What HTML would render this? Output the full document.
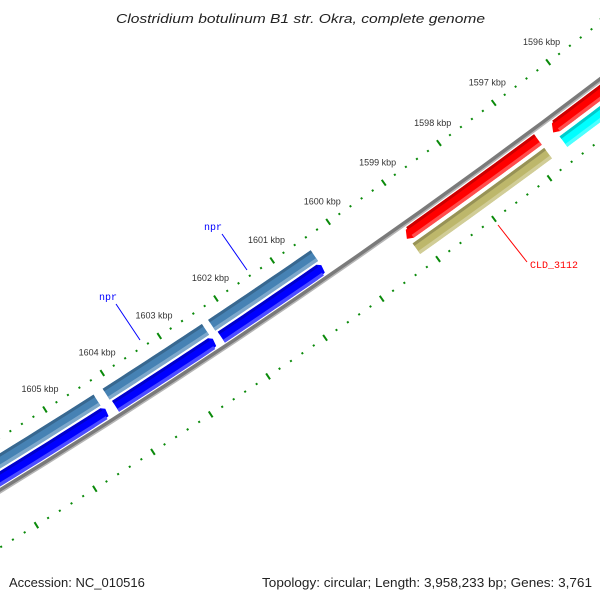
<!DOCTYPE html>
<html><head><meta charset="utf-8"><style>
html,body{margin:0;padding:0;background:#fff;width:600px;height:600px;overflow:hidden;}
svg{display:block;font-family:"Liberation Sans",sans-serif;overflow:hidden;}
</style></head><body>
<svg id="map" width="600" height="600" viewBox="0 0 600 600">
<rect width="600" height="600" fill="#fff"/>
<g id="layer"></g>
<text x="116" y="23" textLength="369" lengthAdjust="spacingAndGlyphs" font-size="13" font-style="italic" fill="#222">Clostridium botulinum B1 str. Okra, complete genome</text>
<text x="9" y="587" font-size="13" fill="#222">Accession: NC_010516</text>
<text x="262" y="587" textLength="330" lengthAdjust="spacingAndGlyphs" font-size="13" fill="#222">Topology: circular; Length: 3,958,233 bp; Genes: 3,761</text>
</svg>
<script>
// data (kbp)
const tickStart = 1590;
const tickEnd = 1612;
const tickStep = 0.2;
const majorLabels = [1596,1597,1598,1599,1600,1601,1602,1603,1604,1605];
const featStart = [1600.5, 1602.42, 1604.3, 1600.45, 1602.38, 1604.28, 1596.8, 1595.0, 1596.8, 1595.0];
const featEnd   = [1602.25, 1604.1, 1608.0, 1602.27, 1604.12, 1608.0, 1599.11, 1596.47, 1599.17, 1596.52];
const featTrack = [1, 1, 1, 0, 0, 0, 2, 2, 3, 3];
const featStrand= [1, 1, 1, 0, 0, 0, -1, -1, 0, 0];
const featColor = ["#0000ff","#0000ff","#0000ff","#4682b4","#4682b4","#4682b4","#ff0000","#ff0000","#bdb76b","#00ffff"];
const labelText = ["npr","npr","CLD_3112"];
const labelFeat = [3, 4, 8];

const CX=-3788, CY=-5683, RB=7242.6;
const trackR=[-24.8,-9.5,11,28];
const TH=13;
function ang(k){return (55.12+(k-1600)*0.541)*Math.PI/180;}
function pt(k,r){const a=ang(k);return [CX+r*Math.cos(a), CY+r*Math.sin(a)];}
const NS="http://www.w3.org/2000/svg";
const layer=document.getElementById('layer');
function mk(tag,attrs){const e=document.createElementNS(NS,tag);for(const k in attrs)e.setAttribute(k,attrs[k]);layer.appendChild(e);return e;}
function arcPath(a,b,r){let s=[];for(let i=0;i<=20;i++){const k=a+(b-a)*i/20;s.push(pt(k,r).map(v=>v.toFixed(2)).join(','));}return s;}

// backbone
let bb=arcPath(1590,1612,RB+1.8);
let e=mk('polyline',{points:bb.join(' '),fill:'none',stroke:'#b5b5b5','stroke-width':3});


bb=arcPath(1590,1612,RB);
e=mk('polyline',{points:bb.join(' '),fill:'none',stroke:'#7a7a7a','stroke-width':3.5});



// ticks
const rows=[RB-44.7, RB+49];
for(let ri=0;ri<2;ri++){
  const n=Math.round((tickEnd-tickStart)/tickStep);
  for(let i=0;i<=n;i++){
    const k=tickStart+i*tickStep;
    const major=Math.abs(k-Math.round(k))<1e-6;
    const len=major?3.5:1;
    const p1=pt(k,rows[ri]-len), p2=pt(k,rows[ri]+len);
    const t=mk('line',{x1:p1[0],y1:p1[1],x2:p2[0],y2:p2[1],stroke:'#0a8a0a','stroke-width':2});
    
    
  }
}
for(const k of majorLabels){
  const p=pt(k-0.1,RB-44.7-20);
  const t=mk('text',{x:p[0],y:p[1]+3,'text-anchor':'middle','font-size':'9',fill:'#333'});
  t.textContent=k+' kbp';
  
  
}

// features
function shade(c,f){const n=parseInt(c.slice(1),16);let r=n>>16,g=(n>>8)&255,b=n&255;
  if(f<0){r*=1+f;g*=1+f;b*=1+f;}else{r+= (255-r)*f;g+=(255-g)*f;b+=(255-b)*f;}
  return 'rgb('+[r,g,b].map(v=>Math.round(v)).join(',')+')';}
function band(a,b,r1,r2){
  let pts=[];const N=16;
  for(let i=0;i<=N;i++){const k=a+(b-a)*i/N;pts.push(pt(k,r1));}
  for(let i=N;i>=0;i--){const k=a+(b-a)*i/N;pts.push(pt(k,r2));}
  return pts;
}
for(let i=0;i<featStart.length;i++){
  const r=RB+trackR[featTrack[i]];
  let a=featStart[i], b=featEnd[i];
  const r1=r-TH/2, r2=r+TH/2;
  const g=document.createElementNS(NS,'g');layer.appendChild(g);
  
  
  let outline=[];
  const hd=0.09;
  const N=16;
  for(let j=0;j<=N;j++){const k=a+(b-a)*j/N;outline.push(pt(k,r1));}
  if(featStrand[i]===-1){outline.pop();outline.push(pt(b+hd*0.3,r1+2));outline.push(pt(b+hd,r2-3));outline.push(pt(b,r2));}
  else outline.push(pt(b,r2));
  for(let j=N-1;j>=0;j--){const k=a+(b-a)*j/N;outline.push(pt(k,r2));}
  if(featStrand[i]===1){outline.pop();outline.push(pt(a-hd*0.4,r2-2));outline.push(pt(a-hd*0.6,r1+3));}
  const poly=document.createElementNS(NS,'polygon');
  poly.setAttribute('points',outline.map(p=>p[0].toFixed(2)+','+p[1].toFixed(2)).join(' '));
  poly.setAttribute('fill',featColor[i]);
  
  
  g.appendChild(poly);
  const top=band(a,b,r1,r1+3);
  const s1=document.createElementNS(NS,'polygon');
  s1.setAttribute('points',top.map(p=>p[0].toFixed(2)+','+p[1].toFixed(2)).join(' '));
  s1.setAttribute('fill',shade(featColor[i],-0.2));
  
  
  g.appendChild(s1);
  const bot=band(a,b,r2-3.5,r2);
  const s2=document.createElementNS(NS,'polygon');
  s2.setAttribute('points',bot.map(p=>p[0].toFixed(2)+','+p[1].toFixed(2)).join(' '));
  s2.setAttribute('fill',shade(featColor[i],0.3));
  
  
  g.appendChild(s2);
}
// labels
const labelPos=[[213,230,222,234,247,270,'#0000ff'],[108,300,116,304,140,340,'#0000ff'],[530,268,498,225,527,262,'#ff0000']];
for(let i=0;i<labelText.length;i++){
  const L=labelPos[i];
  const ln=mk('line',{x1:L[2],y1:L[3],x2:L[4],y2:L[5],stroke:L[6],'stroke-width':1});
  
  
  const t=mk('text',{x:L[0],y:L[1],'text-anchor':i<2?'middle':'start','font-size':'10',fill:L[6],'font-family':'Liberation Mono, monospace'});
  t.textContent=labelText[i];
  
  
}
</script>
</body></html>
